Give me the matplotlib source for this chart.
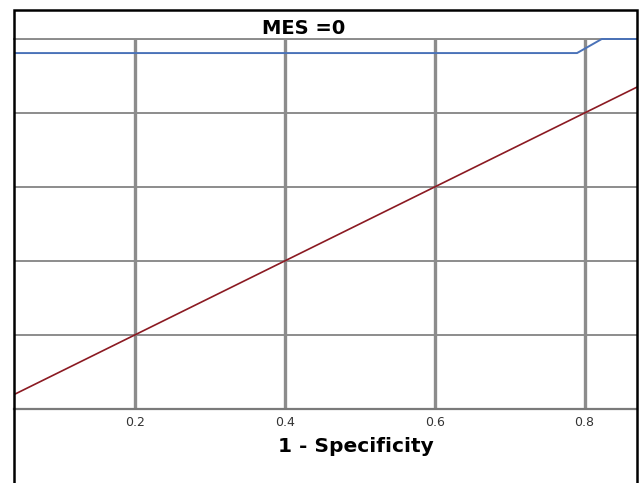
import numpy as np
import matplotlib.pyplot as plt
from matplotlib.patches import Rectangle

plt.rcParams['font.family'] = ['DejaVu Sans']

# ROC curve (sensitivity vs 1 - specificity)
roc_x = [0.0, 0.0, 0.79, 0.823, 1.0]
roc_y = [0.0, 0.962, 0.962, 1.0, 1.0]
# reference diagonal
ref_x = [0.0, 1.0]
ref_y = [0.0, 1.0]
xticks = [0.2, 0.4, 0.6, 0.8]
yticks = [0.2, 0.4, 0.6, 0.8, 1.0]

W, H = 639, 483
fig = plt.figure(figsize=(W / 100, H / 100), dpi=100)
ax = fig.add_axes([14 / W, (H - 409) / H, (637 - 14) / W, (409 - 39) / H])

ax.plot(ref_x, ref_y, color='#8b1a22', lw=1.2, zorder=3)
roc, = ax.plot(roc_x, roc_y, color='#4a72b8', lw=1.4, zorder=3)
# let the curve show fully along the top edge
clip = Rectangle((0, 0), 1, 1.02, transform=ax.transAxes, visible=False)
ax.add_patch(clip)
roc.set_clip_path(clip)

ax.set_xlim(0.039, 0.87)
ax.set_ylim(0, 1.0)
ax.set_xticks(xticks)
ax.set_xticklabels([str(t) for t in xticks])
ax.set_yticks(yticks)
ax.tick_params(axis='x', length=0, labelsize=9, colors='#333333', pad=5)
ax.tick_params(axis='y', length=0, labelleft=False)
ax.grid(axis='x', color='#8c8c8c', lw=2.4, zorder=1)
ax.grid(axis='y', color='#8c8c8c', lw=1.4, zorder=1)
for s in ['right', 'left']:
    ax.spines[s].set_visible(False)
ax.spines['top'].set_color('#8c8c8c')
ax.spines['top'].set_linewidth(1.4)
ax.spines['top'].set_zorder(2)
ax.spines['bottom'].set_color('#7a7a7a')
ax.spines['bottom'].set_linewidth(1.6)

# outer frame (cropped at bottom)
frame = Rectangle((14 / W, -0.1), (637 - 14) / W, (H - 10) / H + 0.1,
                  transform=fig.transFigure, fill=False, ec='black', lw=1.8,
                  clip_on=False)
fig.patches.append(frame)

fig.text(304 / W, (H - 28) / H, 'MES =0', ha='center', va='center',
         fontsize=14, fontweight='bold')
fig.text(356 / W, (H - 446) / H, '1 - Specificity', ha='center', va='center',
         fontsize=14.5, fontweight='bold')

fig.savefig('out.png', dpi=100)
